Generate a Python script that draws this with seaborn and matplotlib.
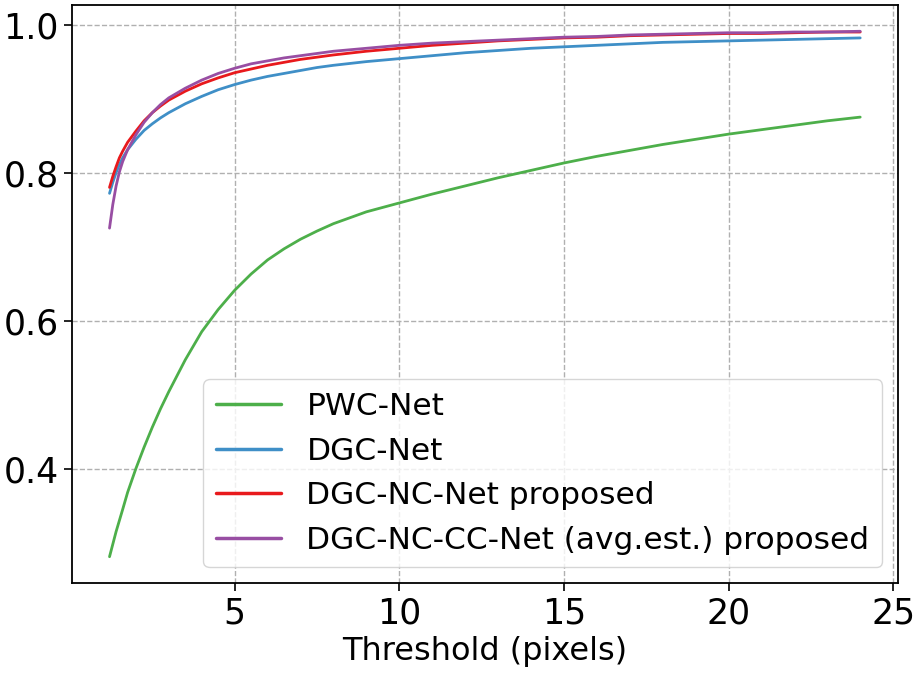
import numpy as np
import pandas as pd
import matplotlib
matplotlib.use("Agg")
import matplotlib.pyplot as plt
import seaborn as sns

thresholds = [1.2, 1.3, 1.4, 1.5, 1.6, 1.75, 2.0, 2.25, 2.5, 2.75, 3.0, 3.5, 4.0, 4.5,
              5.0, 5.5, 6.0, 6.5, 7.0, 7.5, 8.0, 9.0, 10, 11, 12, 13, 14, 15, 16, 17,
              18, 19, 20, 21, 22, 23, 24]

pwc_net = [0.281, 0.298, 0.315, 0.330, 0.345, 0.368, 0.400, 0.429, 0.456, 0.481, 0.504,
           0.547, 0.585, 0.615, 0.641, 0.663, 0.682, 0.697, 0.710, 0.721, 0.731, 0.747,
           0.759, 0.771, 0.782, 0.793, 0.803, 0.813, 0.822, 0.830, 0.838, 0.845, 0.852,
           0.858, 0.864, 0.870, 0.875]
dgc_net = [0.772, 0.787, 0.800, 0.811, 0.820, 0.831, 0.845, 0.857, 0.866, 0.874, 0.881,
           0.893, 0.903, 0.912, 0.919, 0.925, 0.930, 0.934, 0.938, 0.942, 0.945, 0.950,
           0.954, 0.958, 0.962, 0.965, 0.968, 0.970, 0.972, 0.974, 0.976, 0.977, 0.978,
           0.979, 0.980, 0.981, 0.982]
dgc_nc_net = [0.780, 0.795, 0.808, 0.820, 0.829, 0.841, 0.856, 0.870, 0.881, 0.890, 0.898,
              0.910, 0.920, 0.928, 0.935, 0.940, 0.945, 0.949, 0.953, 0.956, 0.959, 0.964,
              0.968, 0.972, 0.975, 0.978, 0.980, 0.982, 0.983, 0.985, 0.986, 0.987, 0.988,
              0.988, 0.989, 0.990, 0.990]
dgc_nc_cc_net = [0.725, 0.757, 0.782, 0.801, 0.815, 0.831, 0.851, 0.868, 0.881, 0.892, 0.901,
                 0.914, 0.925, 0.934, 0.941, 0.947, 0.951, 0.955, 0.958, 0.961, 0.964, 0.968,
                 0.972, 0.975, 0.977, 0.979, 0.981, 0.983, 0.984, 0.986, 0.987, 0.988, 0.989,
                 0.989, 0.990, 0.990, 0.991]

labels = ["PWC-Net", "DGC-Net", "DGC-NC-Net proposed", "DGC-NC-CC-Net (avg.est.) proposed"]
series = [pwc_net, dgc_net, dgc_nc_net, dgc_nc_cc_net]
colors = ["#4daf4a", "#3f8fc7", "#e8191c", "#984ea3"]

df = pd.concat([pd.DataFrame({"Threshold": thresholds, "Accuracy": s, "Method": l})
                for s, l in zip(series, labels)], ignore_index=True)

sns.set_style("ticks")
plt.rcParams["font.family"] = ["DejaVu Sans"]
for k in ["text.color", "axes.labelcolor", "xtick.color", "ytick.color"]:
    plt.rcParams[k] = "black"

fig = plt.figure(figsize=(9.17, 6.75), dpi=100)
ax = fig.add_axes([0.0785, 0.1363, 0.9005, 0.8563])

sns.lineplot(data=df, x="Threshold", y="Accuracy", hue="Method", hue_order=labels,
             palette=dict(zip(labels, colors)), linewidth=2.0, ax=ax, legend=False)

ax.grid(True, linestyle="--", color="#b0b0b0", linewidth=1.0)
ax.set_axisbelow(True)
ax.set_xticks([5, 10, 15, 20, 25])
ax.set_yticks([0.4, 0.6, 0.8, 1.0])
ax.tick_params(axis="both", labelsize=25, length=6, width=1.2, direction="out",
               colors="black")
ax.set_xlabel("Threshold (pixels)", fontsize=23, color="black")
ax.set_ylabel("")
for sp in ax.spines.values():
    sp.set_linewidth(1.3)
    sp.set_color("black")

handles = [plt.Line2D([], [], color=c, linewidth=2.5) for c in colors]
ax.legend(handles, labels, loc="lower right", fontsize=22.5, frameon=True,
          framealpha=0.8, edgecolor="#cccccc", fancybox=True, handlelength=2.1)

fig.savefig("out.png", dpi=100)
